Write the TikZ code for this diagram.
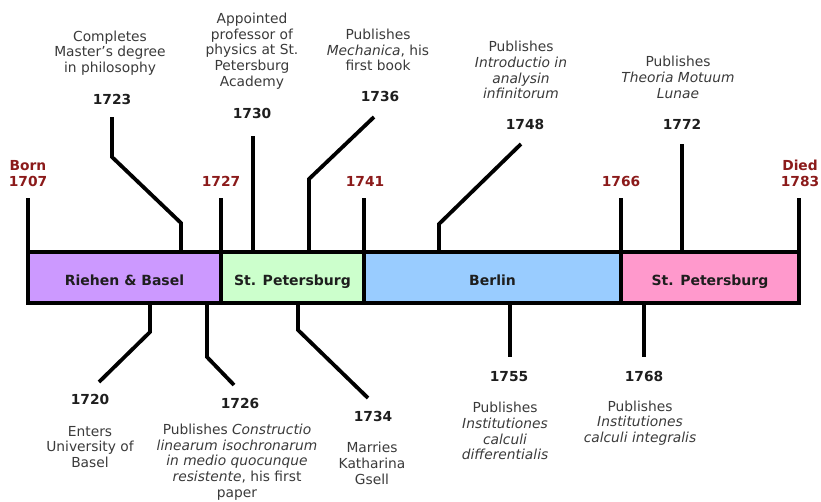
\documentclass[tikz,border=0pt]{standalone}
\usepackage{fontspec}
\setmainfont{DejaVu Sans}
\definecolor{era}{RGB}{139,26,26}
\definecolor{txt}{RGB}{58,58,58}
\definecolor{yr}{RGB}{30,30,30}
\definecolor{cRB}{HTML}{CC99FF}
\definecolor{cSP}{HTML}{CCFFCC}
\definecolor{cBE}{HTML}{99CCFF}
\definecolor{cSPb}{HTML}{FF99CC}
\begin{document}
\begin{tikzpicture}[x=1pt,y=-1pt,
  seg/.style={draw=black, line width=3.6pt, inner sep=0pt, minimum height=51pt,
    text height=15pt, text depth=0pt,
    font=\fontsize{14}{16}\selectfont\bfseries, text=yr},
  yearlbl/.style={font=\fontsize{13.8}{16}\selectfont\bfseries, text=yr, inner sep=0pt},
  eralbl/.style={font=\fontsize{13.8}{16.5}\selectfont\bfseries, text=era, inner sep=0pt, align=center},
  desc/.style={font=\fontsize{13.8}{15.8}\selectfont, text=txt, align=center, inner sep=0pt},
  evline/.style={line width=3.8pt, line join=miter}]
\useasboundingbox (0,0) rectangle (821,501);

% attachment / end coordinates
\foreach \n/\x/\y in {t1707/28/198, t1727/221/198, t1741/364/198, t1766/621/198, t1783/799/198,
  b1707/28/252, b1727/221/252, b1741/364/252, b1766/621/252, b1783/799/252}
  {\coordinate (\n) at (\x,\y);}

\coordinate (p1723) at (181,252); \coordinate (k1723a) at (181,223); \coordinate (k1723b) at (112,157); \coordinate (e1723) at (112,117);
\coordinate (p1730) at (253,252); \coordinate (e1730) at (253,136);
\coordinate (p1736) at (309,252); \coordinate (k1736) at (309,179); \coordinate (e1736) at (374,117);
\coordinate (p1748) at (439,252); \coordinate (k1748) at (439,224); \coordinate (e1748) at (521,144);
\coordinate (p1772) at (682,252); \coordinate (e1772) at (682,144);

\coordinate (p1720) at (150,303); \coordinate (k1720) at (150,332); \coordinate (e1720) at (99,382);
\coordinate (p1726) at (207,303); \coordinate (k1726) at (207,357); \coordinate (e1726) at (234,385);
\coordinate (p1734) at (298,303); \coordinate (k1734) at (298,330); \coordinate (e1734) at (368,398);
\coordinate (p1755) at (510,303); \coordinate (e1755) at (510,357);
\coordinate (p1768) at (644,303); \coordinate (e1768) at (644,357);

% connectors
\foreach \y in {1707,1727,1741,1766,1783} {\draw[evline] (t\y) -- (b\y);}
\draw[evline] (p1723) -- (k1723a) -- (k1723b) -- (e1723);
\draw[evline] (p1730) -- (e1730);
\draw[evline] (p1736) -- (k1736) -- (e1736);
\draw[evline] (p1748) -- (k1748) -- (e1748);
\draw[evline] (p1772) -- (e1772);
\draw[evline] (p1720) -- (k1720) -- (e1720);
\draw[evline] (p1726) -- (k1726) -- (e1726);
\draw[evline] (p1734) -- (k1734) -- (e1734);
\draw[evline] (p1755) -- (e1755);
\draw[evline] (p1768) -- (e1768);

% bar segments
\node[seg, fill=cRB, minimum width=193pt] (rb) at (124.5,277.5) {Riehen \& Basel};
\node[seg, fill=cSP, minimum width=143pt] (sp1) at (292.5,277.5) {St. Petersburg};
\node[seg, fill=cBE, minimum width=257pt] (be) at (492.5,277.5) {Berlin};
\node[seg, fill=cSPb, minimum width=178pt] (sp2) at (710,277.5) {St. Petersburg};

% era labels
\node[eralbl] (l1707) at (28,173.5) {Born\\1707};
\node[eralbl] (l1727) at (221,181.5) {1727};
\node[eralbl] (l1741) at (365,181.5) {1741};
\node[eralbl] (l1766) at (621,181.5) {1766};
\node[eralbl] (l1783) at (800,173.5) {Died\\1783};

% years above
\node[yearlbl] (y1723) at (112,99.5) {1723};
\node[yearlbl] (y1730) at (252,113.5) {1730};
\node[yearlbl] (y1736) at (380,96.5) {1736};
\node[yearlbl] (y1748) at (525,124.5) {1748};
\node[yearlbl] (y1772) at (682,124.5) {1772};

% years below
\node[yearlbl] (y1720) at (90,399.5) {1720};
\node[yearlbl] (y1726) at (240,403.5) {1726};
\node[yearlbl] (y1734) at (373,416.5) {1734};
\node[yearlbl] (y1755) at (509,376.5) {1755};
\node[yearlbl] (y1768) at (644,376.5) {1768};

% descriptions above
\node[desc] (d1723) at (110,53) {Completes\\Master's degree\\in philosophy};
\node[desc] (d1730) at (252,51) {Appointed\\professor of\\physics at St.\\Petersburg\\Academy};
\node[desc] (d1736) at (378,50) {Publishes\\\textit{Mechanica}, his\\first book};
\node[desc] (d1748) at (521,70) {Publishes\\\textit{Introductio in}\\\textit{analysin}\\\textit{infinitorum}};
\node[desc] (d1772) at (678,77.5) {Publishes\\\textit{Theoria Motuum}\\\textit{Lunae}};

% descriptions below
\node[desc] (d1720) at (90,447) {Enters\\University of\\Basel};
\node[desc] (d1726) at (237,462) {Publishes \textit{Constructio}\\\textit{linearum isochronarum}\\\textit{in medio quocunque}\\\textit{resistente}, his first\\paper};
\node[desc] (d1734) at (372,463.5) {Marries\\Katharina\\Gsell};
\node[desc] (d1755) at (505,431) {Publishes\\\textit{Institutiones}\\\textit{calculi}\\\textit{differentialis}};
\node[desc] (d1768) at (640,423) {Publishes\\\textit{Institutiones}\\\textit{calculi integralis}};
\end{tikzpicture}
\end{document}
